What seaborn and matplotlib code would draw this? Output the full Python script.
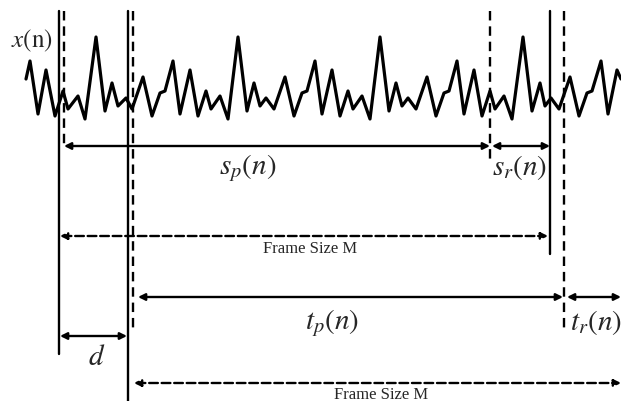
import numpy as np
import pandas as pd
import seaborn as sns
import matplotlib.pyplot as plt

# waveform samples x(n) (pixel units, y grows downward)
wave_x = [26, 30, 38, 46, 55, 63, 68, 78, 85, 96, 105, 112, 118, 126, 132,
          143, 152, 160, 165, 173, 180, 190, 198, 206, 211, 220, 228, 238, 247, 254, 260, 266, 274,
          285, 294, 302, 307, 315, 322, 332, 340, 348, 353, 362, 370, 380, 389, 396, 402, 408, 416,
          427, 436, 444, 449, 457, 464, 474, 482, 490, 495, 504, 512, 523, 532, 540, 545, 551, 559,
          570, 579, 587, 592, 601, 608, 617, 621]
wave_y = [80, 62, 115, 71, 117, 92, 110, 97, 120, 38, 112, 84, 107, 99, 110,
          78, 117, 94, 92, 62, 115, 71, 117, 92, 110, 97, 120, 38, 112, 84, 107, 99, 110,
          78, 117, 94, 92, 62, 115, 71, 117, 92, 110, 97, 120, 38, 112, 84, 107, 99, 110,
          78, 117, 94, 92, 62, 115, 71, 117, 92, 110, 97, 120, 38, 112, 84, 107, 99, 110,
          78, 117, 94, 92, 62, 115, 71, 80]

# frame boundary markers: x position, bottom end
solid_x = [59, 128, 550]
solid_bottom = [355, 402, 255]
dashed_x = [64, 133, 490, 564]
dashed_bottom = [145, 330, 163, 330]
marker_top = 12

# span arrows
span_start = [64, 492, 60, 138, 567, 60, 134]
span_end = [490, 550, 548, 563, 621, 127, 621]
span_row = [147, 147, 237, 298, 298, 337, 384]
span_dashed = [False, False, True, False, False, False, True]
span_label = [r'$s_p(n)$', r'$s_r(n)$', 'Frame Size M', r'$t_p(n)$', r'$t_r(n)$',
              r'$d$', 'Frame Size M']
label_x = [248, 520, 310, 332, 596, 97, 381]
label_y = [168, 168, 249, 323, 323, 357, 395]

sns.set_style('white')
plt.rcParams['mathtext.fontset'] = 'stix'

fig = plt.figure(figsize=(6.21, 4.02), dpi=100)
ax = fig.add_axes([0, 0, 1, 1])

wave = pd.DataFrame({'n': wave_x, 'x': wave_y})
sns.lineplot(data=wave, x='n', y='x', color='black', lw=2.3, ax=ax, sort=False,
             solid_joinstyle='round')

dash = (0, (4, 2.5))
for xv, yb in zip(solid_x, solid_bottom):
    ax.plot([xv, xv], [marker_top, yb], color='black', lw=1.7)
for xv, yb in zip(dashed_x, dashed_bottom):
    ax.plot([xv, xv], [marker_top, yb], color='black', lw=1.7, linestyle=dash)

for x0, x1, row, dsh in zip(span_start, span_end, span_row, span_dashed):
    ax.annotate('', xy=(x1, row), xytext=(x0, row),
                arrowprops=dict(arrowstyle='<|-|>', color='black', lw=1.7,
                                linestyle='--' if dsh else '-',
                                mutation_scale=10, shrinkA=0, shrinkB=0))

for lab, lx, ly in zip(span_label, label_x, label_y):
    if lab.startswith('$'):
        ax.text(lx, ly, lab, fontsize=21, ha='center', va='center')
    else:
        ax.text(lx, ly, lab, fontsize=12, family='Liberation Serif',
                ha='center', va='center')

ax.text(32, 41, r'$x(\mathrm{n})$', fontsize=18, ha='center', va='center')

ax.set_xlim(0, 621)
ax.set_ylim(402, 0)
ax.axis('off')

fig.savefig('out.png', dpi=100, facecolor='white')
